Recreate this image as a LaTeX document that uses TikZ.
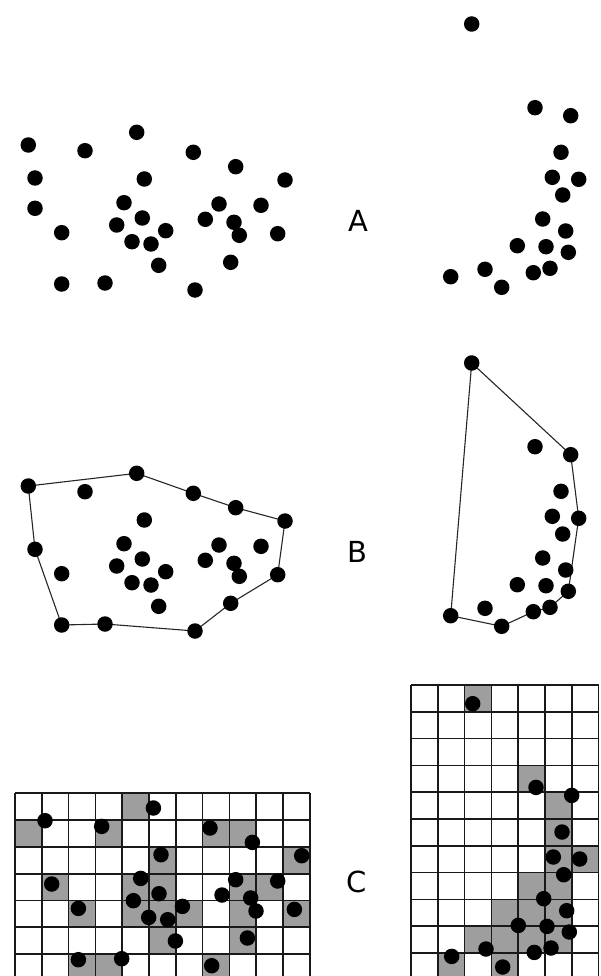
\documentclass[tikz,border=0pt]{standalone}
\usepackage{fontspec}
\setmainfont{DejaVu Sans}
\begin{document}
\begin{tikzpicture}[x=1pt,y=-1pt,
  dot/.style={circle,fill=black,inner sep=0pt,minimum size=15.5pt},
  hull/.style={line width=1.1pt,black!85},
  gridline/.style={line width=1.7pt,black!90},
  cellfill/.style={fill=black!38},
  lab/.style={font=\fontsize{29}{34}\selectfont,inner sep=0pt}]
\useasboundingbox (0,0) rectangle (601,976);
\clip (0,0) rectangle (601,976);
% ---------- A ----------
\foreach \n/\x/\y in {1/28.3/145,2/85/150.7,3/136.7/132.3,4/193.3/152.3,5/235.7/166.7,6/285/180,7/35/178,8/144.3/179,9/35/208.3,10/124/202.7,11/219/204,12/261/205.3,13/61.7/232.7,14/116.7/225,15/142.3/218,16/165.7/230.7,17/205.3/219.3,18/234/222.3,19/239.3/235.3,20/277.7/233.7,21/132/241.7,22/151/244,23/158.7/265.3,24/230.7/262.3,25/61.7/284,26/105/283,27/195/290}
  \node[dot] (ap\n) at (\x,\y) {};
\foreach \n/\x/\y in {1/471.7/24,2/535/107.7,3/570.7/115.7,4/561/152.3,5/552.3/177.3,6/578.7/179.3,7/562.7/195,8/542.7/219,9/565.7/231,10/517.3/245.7,11/546/246.7,12/568.3/252.3,13/485/269.3,14/550/268.3,15/533.3/272.7,16/450.7/276.7,17/501.7/287.3}
  \node[dot] (aq\n) at (\x,\y) {};
\node[lab] (la) at (358,221) {A};
% ---------- B ----------
\begin{scope}[shift={(0,341)}]
\foreach \n/\x/\y in {1/28.3/145,2/85/150.7,3/136.7/132.3,4/193.3/152.3,5/235.7/166.7,6/285/180,8/144.3/179,9/35/208.3,10/124/202.7,11/219/204,12/261/205.3,13/61.7/232.7,14/116.7/225,15/142.3/218,16/165.7/230.7,17/205.3/219.3,18/234/222.3,19/239.3/235.3,20/277.7/233.7,21/132/241.7,22/151/244,23/158.7/265.3,24/230.7/262.3,25/61.7/284,26/105/283,27/195/290}
  \coordinate (bp\n) at (\x,\y);
\end{scope}
\begin{scope}[shift={(0,339)}]
\foreach \n/\x/\y in {1/471.7/24,2/535/107.7,3/570.7/115.7,4/561/152.3,5/552.3/177.3,6/578.7/179.3,7/562.7/195,8/542.7/219,9/565.7/231,10/517.3/245.7,11/546/246.7,12/568.3/252.3,13/485/269.3,14/550/268.3,15/533.3/272.7,16/450.7/276.7,17/501.7/287.3}
  \coordinate (bq\n) at (\x,\y);
\end{scope}
\draw[hull] (bp1) -- (bp3) -- (bp4) -- (bp5) -- (bp6) -- (bp20) -- (bp24) -- (bp27) -- (bp26) -- (bp25) -- (bp9) -- cycle;
\draw[hull] (bq1) -- (bq3) -- (bq6) -- (bq12) -- (bq14) -- (bq15) -- (bq17) -- (bq16) -- cycle;
\foreach \n in {1,2,3,4,5,6,8,9,10,11,12,13,14,15,16,17,18,19,20,21,22,23,24,25,26,27}
  \node[dot] (bpd\n) at (bp\n) {};
\foreach \n in {1,...,17}
  \node[dot] (bqd\n) at (bq\n) {};
\node[lab] (lb) at (357,552) {B};
% ---------- C ----------
% left grid
\foreach \r/\c in {0/4, 1/0,1/3,1/7,1/8, 2/5,2/10, 3/1,3/4,3/5,3/8,3/9, 4/2,4/4,4/5,4/6,4/8,4/10, 5/5,5/8, 6/2,6/3,6/7}
  \fill[cellfill] ({15+26.8*\c},{793.3+26.8*\r}) rectangle ++(26.8,26.8);
\foreach \k in {0,...,11}
  \draw[gridline] ({15+26.8*\k},793.3) -- ({15+26.8*\k},985);
\foreach \k in {0,...,6}
  \draw[gridline] (15,{793.3+26.8*\k}) -- (309.8,{793.3+26.8*\k});
% right grid
\foreach \r/\c in {0/2, 3/4, 4/5, 5/5, 6/5,6/6, 7/4,7/5, 8/3,8/4,8/5, 9/2,9/3,9/4,9/5, 10/1,10/3}
  \fill[cellfill] ({411+26.8*\c},{685+26.8*\r}) rectangle ++(26.8,26.8);
\foreach \k in {0,...,7}
  \draw[gridline] ({411+26.8*\k},685) -- ({411+26.8*\k},985);
\foreach \k in {0,...,10}
  \draw[gridline] (411,{685+26.8*\k}) -- (598.6,{685+26.8*\k});
\begin{scope}[shift={(16.7,675.7)}]
\foreach \n/\x/\y in {1/28.3/145,2/85/150.7,3/136.7/132.3,4/193.3/152.3,5/235.7/166.7,6/285/180,8/144.3/179,9/35/208.3,10/124/202.7,11/219/204,12/261/205.3,13/61.7/232.7,14/116.7/225,15/142.3/218,16/165.7/230.7,17/205.3/219.3,18/234/222.3,19/239.3/235.3,20/277.7/233.7,21/132/241.7,22/151/244,23/158.7/265.3,24/230.7/262.3,25/61.7/284,26/105/283,27/195/290}
  \node[dot] (cp\n) at (\x,\y) {};
\end{scope}
\begin{scope}[shift={(1,679.7)}]
\foreach \n/\x/\y in {1/471.7/24,2/535/107.7,3/570.7/115.7,4/561/152.3,5/552.3/177.3,6/578.7/179.3,7/562.7/195,8/542.7/219,9/565.7/231,10/517.3/245.7,11/546/246.7,12/568.3/252.3,13/485/269.3,14/550/268.3,15/533.3/272.7,16/450.7/276.7,17/501.7/287.3}
  \node[dot] (cq\n) at (\x,\y) {};
\end{scope}
\node[lab] (lc) at (357,882) {C};
\end{tikzpicture}
\end{document}
